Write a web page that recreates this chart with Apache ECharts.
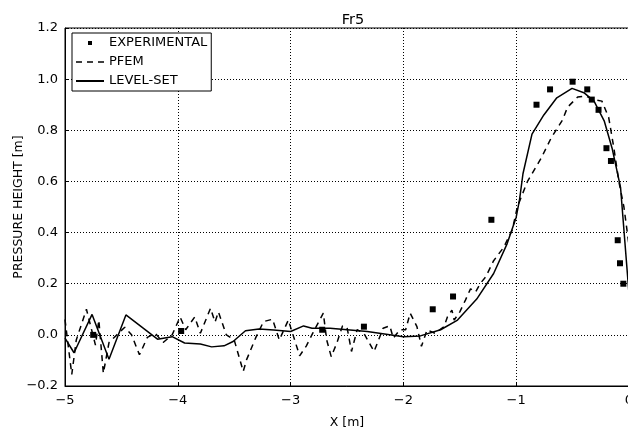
<!DOCTYPE html>
<html>
<head>
<meta charset="utf-8">
<script src="https://cdn.jsdelivr.net/npm/echarts@6/dist/echarts.min.js"></script>
<style>
  html, body { margin: 0; padding: 0; background: #fff; }
  #chart { width: 628px; height: 431px; }
</style>
</head>
<body>
<div id="chart"></div>
<script>
// experimental points
const expX = [-4.75, -3.97, -2.72, -2.35, -1.74, -1.56, -1.22, -0.82, -0.70, -0.50, -0.37, -0.33, -0.27, -0.20, -0.16, -0.10, -0.08, -0.05]
const expY = [0.0, 0.015, 0.02, 0.032, 0.10, 0.15, 0.45, 0.90, 0.96, 0.99, 0.96, 0.92, 0.88, 0.73, 0.68, 0.37, 0.28, 0.20]

// PFEM (dashed)
const pfemX = [-5.00, -4.94, -4.90, -4.81, -4.73, -4.70, -4.66, -4.61, -4.54, -4.47, -4.41, -4.34, -4.27, -4.20, -4.13, -4.05,
  -3.98, -3.93, -3.85, -3.80, -3.71, -3.67, -3.64, -3.57, -3.50, -3.42, -3.39, -3.31, -3.24, -3.16, -3.10, -3.02,
  -2.92, -2.86, -2.80, -2.71, -2.68, -2.64, -2.59, -2.54, -2.50, -2.46, -2.41, -2.35, -2.26, -2.22, -2.18, -2.12,
  -2.09, -2.03, -1.98, -1.94, -1.88, -1.84, -1.79, -1.72, -1.64, -1.61, -1.57, -1.55, -1.50, -1.45, -1.405, -1.36,
  -1.32, -1.27, -1.20, -1.11, -1.035, -0.99, -0.90, -0.78, -0.69, -0.59, -0.545, -0.455, -0.385, -0.31, -0.24, -0.18,
  -0.135, -0.09, -0.045, -0.015, 0.0]
const pfemY = [0.06, -0.155, -0.02, 0.10, -0.04, 0.058, -0.15, -0.03, 0.00, 0.03, 0.00, -0.078, -0.01, 0.006, -0.03, 0.0,
  0.07, 0.02, 0.07, 0.006, 0.104, 0.05, 0.09, 0.0, -0.02, -0.143, -0.097, -0.012, 0.052, 0.061, -0.02, 0.058,
  -0.082, -0.043, 0.01, 0.085, -0.02, -0.085, -0.032, 0.035, 0.03, -0.065, 0.02, 0.006, -0.065, -0.02, 0.026, 0.035,
  -0.013, 0.02, 0.02, 0.085, 0.032, -0.045, 0.02, 0.006, 0.032, 0.07, 0.097, 0.058, 0.09, 0.136, 0.18, 0.168,
  0.20, 0.227, 0.29, 0.343, 0.41, 0.50, 0.60, 0.69, 0.77, 0.84, 0.89, 0.93, 0.934, 0.92, 0.914, 0.85,
  0.733, 0.60, 0.50, 0.40, 0.35]

// LEVEL-SET (solid)
const lsX = [-5.00, -4.92, -4.76, -4.61, -4.46, -4.18, -4.05, -3.94, -3.80, -3.70, -3.59, -3.51, -3.40, -3.28, -3.15, -3.00,
  -2.885, -2.81, -2.65, -2.32, -2.00, -1.85, -1.67, -1.52, -1.35, -1.20, -1.08, -1.00, -0.97, -0.94, -0.86, -0.755,
  -0.64, -0.505, -0.40, -0.31, -0.22, -0.15, -0.075, 0.0]
const lsY = [-0.013, -0.07, 0.08, -0.095, 0.078, -0.017, -0.007, -0.032, -0.036, -0.047, -0.043, -0.026, 0.016, 0.023, 0.019, 0.013,
  0.035, 0.026, 0.026, 0.013, -0.007, -0.004, 0.02, 0.058, 0.14, 0.24, 0.357, 0.46, 0.53, 0.63, 0.785, 0.86,
  0.927, 0.964, 0.947, 0.914, 0.837, 0.73, 0.577, 0.16]

const xTicks = [-5, -4, -3, -2, -1, 0]

const zip = (xs, ys) => xs.map((x, i) => [x, ys[i]])
const minus = s => String(s).replace('-', '\u2212')
const font = 'DejaVu Sans'

const chart = echarts.init(document.getElementById('chart'))
const gridLine = { show: true, lineStyle: { color: '#000', width: 1, type: [1, 2] } }

const option = {
  animation: false,
  textStyle: { fontFamily: font },
  title: {
    text: 'Fr5',
    left: 348,
    textAlign: 'center',
    top: 8,
    textStyle: { fontFamily: font, fontSize: 14.5, fontWeight: 'normal', color: '#000' }
  },
  legend: {
    left: 72,
    top: 33,
    orient: 'vertical',
    itemWidth: 28,
    itemHeight: 14,
    itemGap: 5,
    padding: [3, 4],
    borderColor: '#000',
    borderWidth: 1,
    borderRadius: 0,
    backgroundColor: '#fff',
    textStyle: { fontFamily: font, fontSize: 13, color: '#000' },
    data: [
      { name: 'EXPERIMENTAL', icon: 'path://M0,0M28,14M12,5L16,5L16,9L12,9Z', itemStyle: { opacity: 1 } },
      { name: 'PFEM', icon: 'path://M0,0M28,14M0,6.25h6v1.5h-6zM11,6.25h6v1.5h-6zM22,6.25h6v1.5h-6z' },
      { name: 'LEVEL-SET', icon: 'path://M0,0M28,14M0,6h28v2h-28z' }
    ]
  },
  grid: {
    left: 65, right: -1, top: 28, bottom: 45,
    outerBoundsMode: 'none',
    show: true, borderColor: '#000', borderWidth: 1
  },
  xAxis: {
    type: 'value',
    min: -5,
    max: 0,
    interval: 1,
    name: 'X [m]',
    nameLocation: 'middle',
    nameGap: 30,
    nameMoveOverlap: false,
    nameTextStyle: { fontFamily: font, fontSize: 12.5, color: '#000' },
    axisLine: { show: true, onZero: false, lineStyle: { color: '#000', width: 1 } },
    axisTick: { show: true, inside: true, length: 4, lineStyle: { color: '#000' } },
    axisLabel: {
      margin: 8, color: '#000', fontFamily: font, fontSize: 13,
      formatter: v => xTicks.includes(v) ? minus(v) : ''
    },
    splitLine: gridLine
  },
  yAxis: {
    type: 'value',
    min: -0.2,
    max: 1.2,
    interval: 0.2,
    name: 'PRESSURE HEIGHT [m]',
    nameLocation: 'middle',
    nameGap: 40,
    nameMoveOverlap: false,
    nameTextStyle: { fontFamily: font, fontSize: 12.5, color: '#000' },
    axisLine: { show: true, onZero: false, lineStyle: { color: '#000', width: 1 } },
    axisTick: { show: true, inside: true, length: 4, lineStyle: { color: '#000' } },
    axisLabel: {
      margin: 7, color: '#000', fontFamily: font, fontSize: 13,
      formatter: v => minus((Math.round(v * 10) / 10).toFixed(1))
    },
    splitLine: gridLine
  },
  series: [
    {
      name: 'EXPERIMENTAL',
      type: 'scatter',
      data: zip(expX, expY),
      symbol: 'rect',
      symbolSize: 6,
      itemStyle: { color: '#000', opacity: 1 },
      z: 4
    },
    {
      name: 'PFEM',
      type: 'line',
      data: zip(pfemX, pfemY),
      showSymbol: false,
      symbol: 'none',
      lineStyle: { color: '#000', width: 1.5, type: [6, 5] },
      itemStyle: { color: '#000' },
      z: 3
    },
    {
      name: 'LEVEL-SET',
      type: 'line',
      data: zip(lsX, lsY),
      showSymbol: false,
      symbol: 'none',
      lineStyle: { color: '#000', width: 1.5 },
      itemStyle: { color: '#000' },
      z: 3
    }
  ]
}
chart.setOption(option)
</script>
</body>
</html>
